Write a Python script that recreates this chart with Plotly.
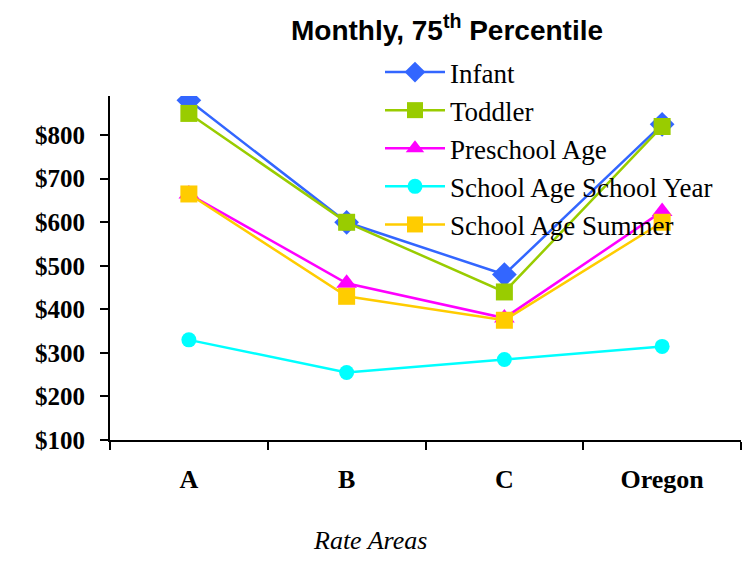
import plotly.graph_objects as go

categories = ["A", "B", "C", "Oregon"]
infant = [880, 600, 480, 825]
toddler = [850, 600, 440, 820]
preschool = [665, 460, 380, 625]
school_year = [330, 255, 285, 315]
school_summer = [665, 430, 375, 600]

y_ticks = [100, 200, 300, 400, 500, 600, 700, 800]
y_tick_labels = ["$100", "$200", "$300", "$400", "$500", "$600", "$700", "$800"]

series = [
    ("Infant", infant, "#3366FF", "diamond", 19),
    ("Toddler", toddler, "#99CC00", "square", 17),
    ("Preschool Age", preschool, "#FF00FF", "triangle-up", 18),
    ("School Age School Year", school_year, "#00FFFF", "circle", 15),
    ("School Age Summer", school_summer, "#FFCC00", "square", 17),
]

fig = go.Figure()
for name, vals, color, sym, size in series:
    fig.add_trace(go.Scatter(
        x=categories, y=vals, name=name, mode="lines+markers",
        line=dict(color=color, width=2.5),
        marker=dict(symbol=sym, size=size, color=color),
    ))

# page body has an 8px margin, so the figure is offset by (8, 8) on screen
fig.update_layout(
    width=755, height=573,
    margin=dict(l=102, r=22, t=88, b=141),
    paper_bgcolor="white", plot_bgcolor="white",
    title=dict(
        text="Monthly, 75<sup>th</sup> Percentile",
        x=439 / 755, xref="container", xanchor="center",
        y=1 - 22 / 573, yref="container", yanchor="middle",
        font=dict(family="Liberation Sans", size=28, color="black", weight="bold"),
    ),
    legend=dict(
        x=(380 - 110) / 631, xanchor="left",
        y=1 + (96 - 48) / 344, yanchor="top",
        bgcolor="rgba(0,0,0,0)",
        font=dict(family="Liberation Serif", size=27, color="black"),
        itemwidth=60, tracegroupgap=0,
    ),
    showlegend=True,
)

fig.update_xaxes(
    type="category", range=[-0.5, 3.5],
    showline=True, linecolor="black", linewidth=2,
    ticks="outside", tickson="boundaries", ticklen=8, tickwidth=2, tickcolor="black",
    showgrid=False, zeroline=False,
    tickfont=dict(family="Liberation Serif", size=26, color="black", weight="bold"),
    ticklabelstandoff=15,
)
fig.update_yaxes(
    range=[100, 890], tickvals=y_ticks, ticktext=y_tick_labels,
    showline=True, linecolor="black", linewidth=2,
    ticks="outside", ticklen=8, tickwidth=2, tickcolor="black",
    showgrid=False, zeroline=False,
    tickfont=dict(family="Liberation Serif", size=25, color="black", weight="bold"),
    ticklabelstandoff=10,
)

fig.add_annotation(
    text="Rate Areas", xref="paper", yref="paper",
    x=(370 - 110) / 631, y=-(540 - 440) / 344,
    xanchor="center", yanchor="middle", showarrow=False,
    font=dict(family="Liberation Serif", size=26, color="black", style="italic"),
)

fig.write_html("out.html")
